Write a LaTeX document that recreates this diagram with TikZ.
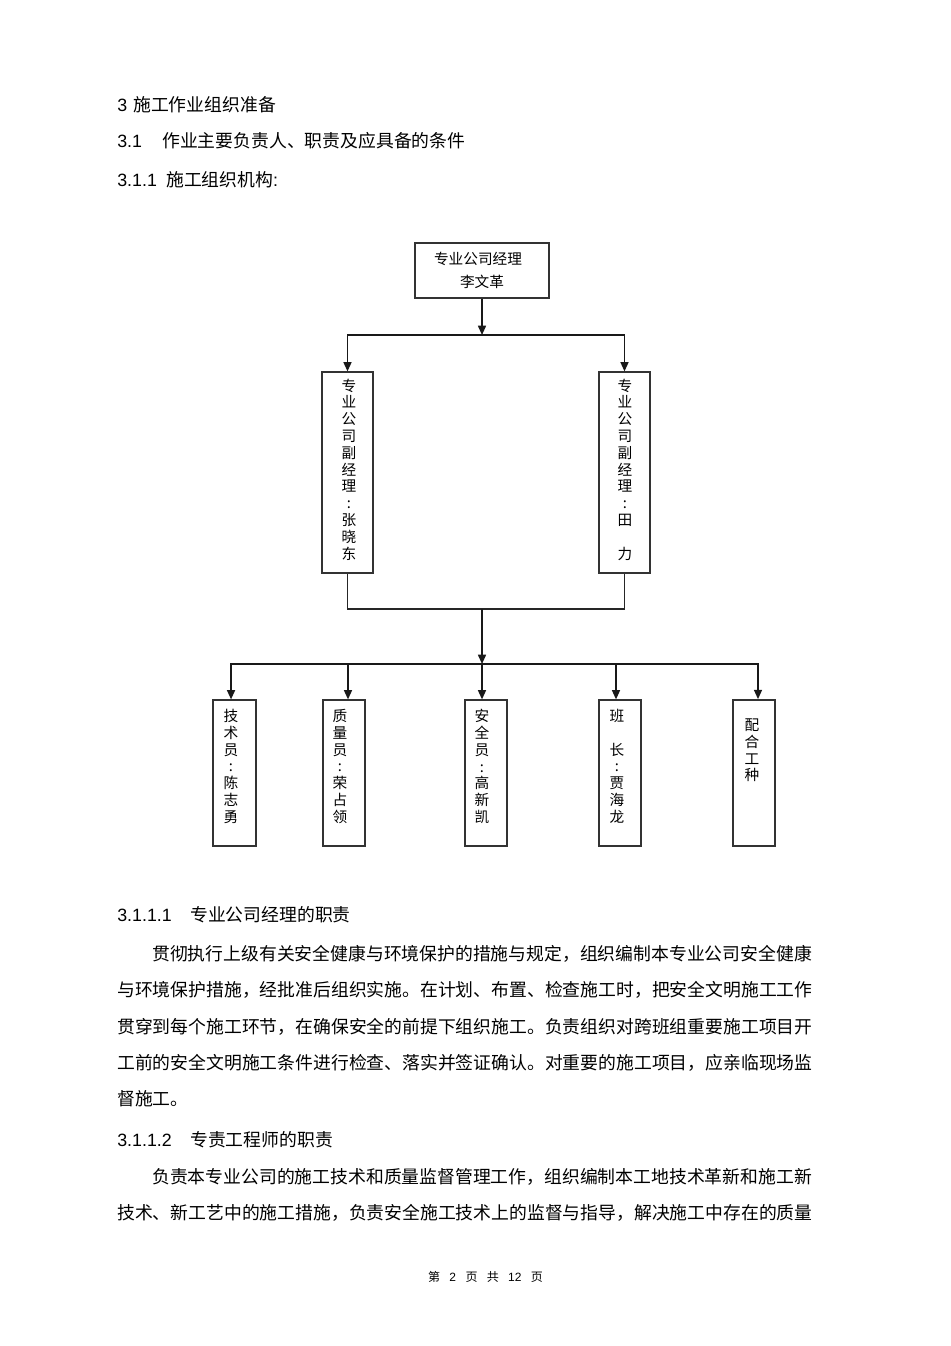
\documentclass[tikz,border=0pt]{standalone}
\usepackage{fontspec}
\setmainfont{Liberation Sans}
\newfontfamily\cjk{Noto Sans CJK SC}
\usetikzlibrary{arrows.meta, positioning, calc}

% fixed-width slot for section numbers
\newcommand{\secnum}[2]{\makebox[#1][l]{#2}}

\begin{document}
\begin{tikzpicture}[x=0.75pt, y=-0.75pt,
    link/.style={line width=1pt, draw=black!85},
    arr/.style={line width=1.2pt, draw=black!90, -{Triangle[length=7pt,width=6pt]}},
    box/.style={draw=black!80, line width=0.9pt, inner sep=0pt},
    vtxt/.style={anchor=north, align=center, inner sep=0pt, font=\cjk\fontsize{11}{12.6}\selectfont},
    body/.style={anchor=base west, inner sep=0pt, font=\fontsize{13.37}{16}\selectfont},
    para/.style={anchor=base west, inner sep=0pt, font=\cjk\fontsize{13.37}{16}\selectfont}]

    % Page
    \fill[white] (0,0) rectangle (950,1346);
    \useasboundingbox (0,0) rectangle (950,1346);

    % Headings
    \node[body] (h1) at (117,111.8) {\secnum{12pt}{3}{\cjk 施工作业组织准备}};
    \node[body] (h2) at (117,147.8) {\secnum{33.75pt}{3.1}{\cjk 作业主要负责人、职责及应具备的条件}};
    \node[body] (h3) at (117,186.8) {\secnum{36.75pt}{3.1.1}{\cjk 施工组织机构}:};

    % Manager
    \node[box, minimum width=100.5pt, minimum height=41.25pt, align=center,
          font=\cjk\fontsize{11}{17.6}\selectfont] (mgr) at (482,270.5) {专业公司经理\hspace*{6pt}\\李文革};

    % Deputy managers
    \node[box, minimum width=38.25pt, minimum height=150.75pt] (depL) at (347.5,472.5) {};
    \node[vtxt] (depLtxt) at (349,378.5) {专\\业\\公\\司\\副\\经\\理\\:\\张\\晓\\东};
    \node[box, minimum width=38.25pt, minimum height=150.75pt] (depR) at (624.5,472.5) {};
    \node[vtxt] (depRtxt) at (625,378.5) {专\\业\\公\\司\\副\\经\\理\\:\\田\\[12.6pt]力};

    % Staff
    \node[box, minimum width=32.25pt, minimum height=109.5pt] (tech) at (234.5,773) {};
    \node[vtxt] (techtxt) at (231,709) {技\\术\\员\\:\\陈\\志\\勇};
    \node[box, minimum width=31.5pt, minimum height=109.5pt] (qual) at (344,773) {};
    \node[vtxt] (qualtxt) at (340,709) {质\\量\\员\\:\\荣\\占\\领};
    \node[box, minimum width=31.5pt, minimum height=109.5pt] (safe) at (486,773) {};
    \node[vtxt] (safetxt) at (482,709) {安\\全\\员\\:\\高\\新\\凯};
    \node[box, minimum width=31.5pt, minimum height=109.5pt] (lead) at (620,773) {};
    \node[vtxt] (leadtxt) at (617,709) {班\\[12.6pt]长\\:\\贾\\海\\龙};
    \node[box, line width=1.3pt, minimum width=31.5pt, minimum height=109.5pt] (coop) at (754,773) {};
    \node[vtxt] (cooptxt) at (752,718.5) {配\\合\\工\\种};

    % Connectors
    \coordinate (split1) at (482,335);
    \coordinate (join) at (482,609);
    \coordinate (split2) at (482,664);
    \draw[arr] (mgr.south) -- (split1);
    \draw[arr] (split1) -| (depL.north);
    \draw[arr] (split1) -| (depR.north);
    \draw[link] (depL.south) |- (join) -| (depR.south);
    \draw[arr] (join) -- (split2);
    \draw[arr] (split2) -| ([xshift=-2.6pt]tech.north);
    \draw[arr] (split2) -| ([xshift=3pt]qual.north);
    \draw[arr] (split2) -- ([xshift=-3pt]safe.north);
    \draw[arr] (split2) -| ([xshift=-3pt]lead.north);
    \draw[arr] (split2) -| ([xshift=3pt]coop.north);

    % Duties text
    \node[body] (s1) at (117,921.8) {\secnum{54.75pt}{3.1.1.1}{\cjk 专业公司经理的职责}};
    \node[para] (p1) at (152,960.8) {贯彻执行上级有关安全健康与环境保护的措施与规定，组织编制本专业公司安全健康};
    \node[para] (p2) at (117,996.8) {与环境保护措施，经批准后组织实施。在计划、布置、检查施工时，把安全文明施工工作};
    \node[para] (p3) at (117,1033.8) {贯穿到每个施工环节，在确保安全的前提下组织施工。负责组织对跨班组重要施工项目开};
    \node[para] (p4) at (117,1069.8) {工前的安全文明施工条件进行检查、落实并签证确认。对重要的施工项目，应亲临现场监};
    \node[para] (p5) at (117,1105.8) {督施工。};
    \node[body] (s2) at (117,1146.8) {\secnum{54.75pt}{3.1.1.2}{\cjk 专责工程师的职责}};
    \node[para] (p6) at (152,1183.8) {负责本专业公司的施工技术和质量监督管理工作，组织编制本工地技术革新和施工新};
    \node[para] (p7) at (117,1219.8) {技术、新工艺中的施工措施，负责安全施工技术上的监督与指导，解决施工中存在的质量};

    % Footer
    \node[anchor=base, inner sep=0pt, font=\cjk\fontsize{9}{10}\selectfont] (foot) at (485.5,1281.6)
        {第\hspace{7pt}{\rmfamily 2}\hspace{7pt}页\hspace{7pt}共\hspace{7pt}{\rmfamily 12}\hspace{7pt}页};
\end{tikzpicture}
\end{document}
